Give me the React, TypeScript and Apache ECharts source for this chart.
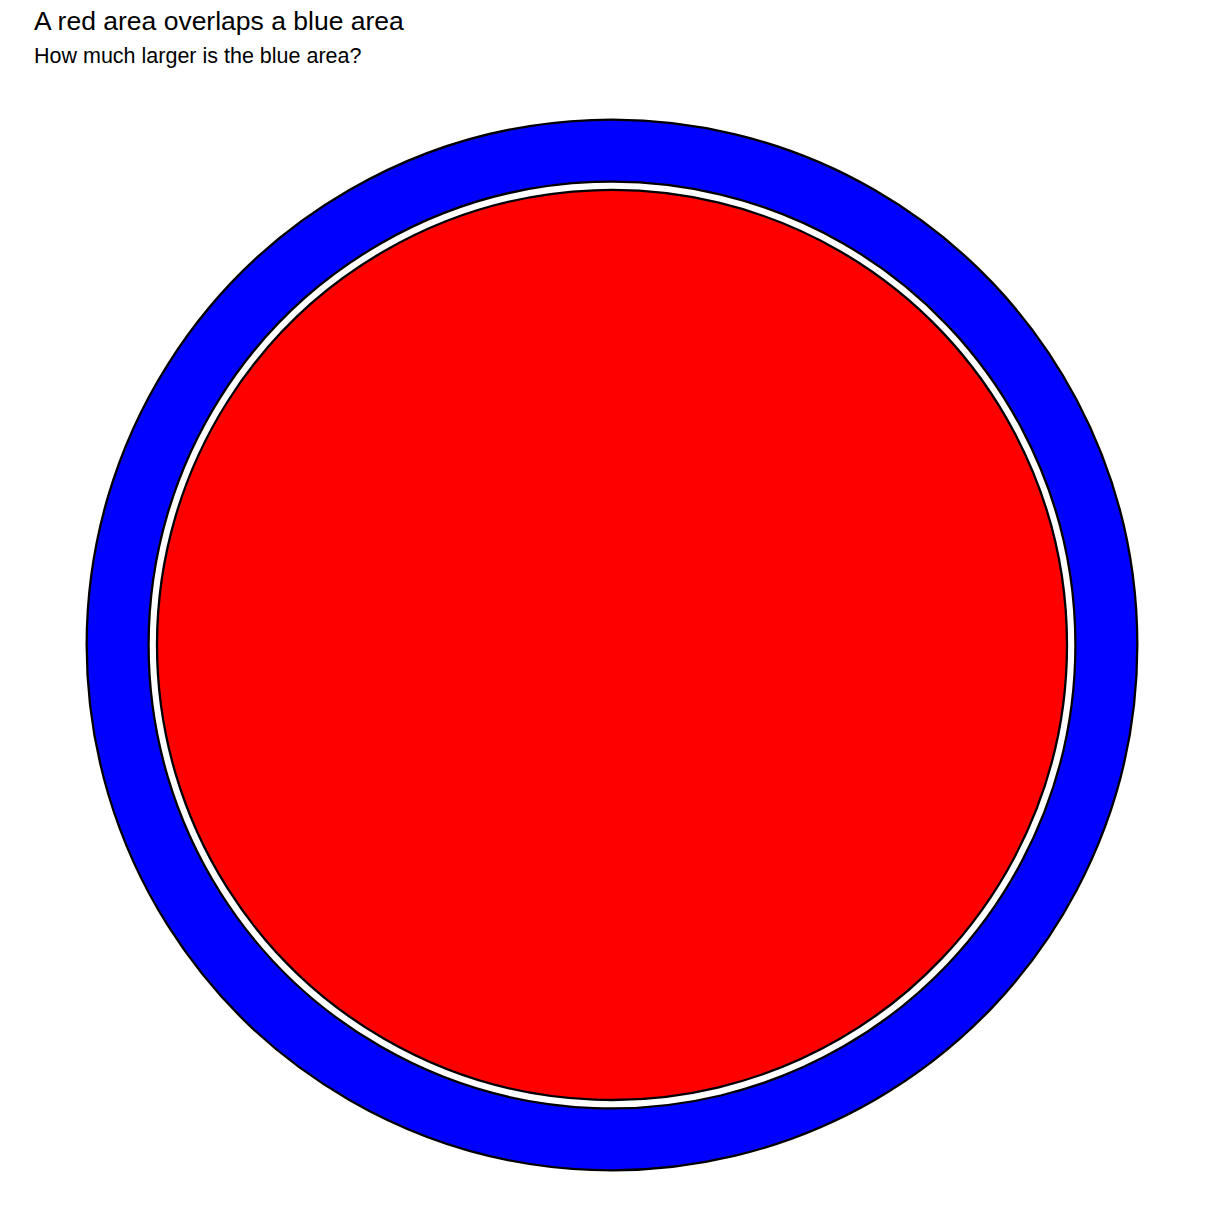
import React, { useEffect, useRef } from "react";
import * as echarts from "echarts";

// Data: relative areas (red area = 1)
const shapeNames = ["Blue area", "Red area"];
const shapeColors = ["#0000FF", "#FF0000"];
const shapeAreas = [1.333, 1.0];
const shapeCenters = [
  [0, 0],
  [0, 0],
];
const titleText = "A red area overlaps a blue area";
const subtitleText = "How much larger is the blue area?";

const GAP = 0.0185; // white gap between the red disc and the blue ring (units)

export default function App() {
  const ref = useRef<HTMLDivElement>(null);
  useEffect(() => {
    if (!ref.current) return;
    const chart = echarts.init(ref.current, undefined, { renderer: "svg" });
    const radius = (a: number) => Math.sqrt(a);
    const redR = radius(shapeAreas[1]);
    const font = "Liberation Sans";
    chart.setOption({
      animation: false,
      backgroundColor: "#ffffff",
      title: [
        {
          text: titleText,
          left: 34,
          top: 8,
          padding: 0,
          textStyle: {
            fontSize: 26.5,
            lineHeight: 26.5,
            fontWeight: "normal",
            color: "#000000",
            fontFamily: font,
          },
        },
        {
          text: subtitleText,
          left: 34,
          top: 45,
          padding: 0,
          textStyle: {
            fontSize: 21.5,
            lineHeight: 21.5,
            fontWeight: "normal",
            color: "#000000",
            fontFamily: font,
          },
        },
      ],
      grid: { left: 66, top: 99, width: 1092, height: 1092 },
      xAxis: { type: "value", min: -1.2, max: 1.2, show: false },
      yAxis: { type: "value", min: -1.2, max: 1.2, show: false },
      series: [
        {
          name: shapeNames[0],
          type: "custom",
          coordinateSystem: "cartesian2d",
          data: [[shapeCenters[0][0], shapeCenters[0][1], shapeAreas[0]]],
          renderItem: (params: any, api: any) => {
            const c = api.coord([api.value(0), api.value(1)]);
            const r = api.size([radius(api.value(2)), 0])[0];
            const r0 = api.size([redR + GAP, 0])[0];
            return {
              type: "ring",
              shape: { cx: c[0], cy: c[1], r, r0 },
              style: { fill: shapeColors[0], stroke: "#000000", lineWidth: 2.3 },
            };
          },
        },
        {
          name: shapeNames[1],
          type: "custom",
          coordinateSystem: "cartesian2d",
          data: [[shapeCenters[1][0], shapeCenters[1][1], shapeAreas[1]]],
          renderItem: (params: any, api: any) => {
            const c = api.coord([api.value(0), api.value(1)]);
            const r = api.size([radius(api.value(2)), 0])[0];
            return {
              type: "circle",
              shape: { cx: c[0], cy: c[1], r },
              style: { fill: shapeColors[1], stroke: "#000000", lineWidth: 2.3 },
            };
          },
        },
      ],
    });
    return () => chart.dispose();
  }, []);
  return (
    <div
      ref={ref}
      style={{ position: "fixed", left: 0, top: 0, width: 1224, height: 1224 }}
    />
  );
}
